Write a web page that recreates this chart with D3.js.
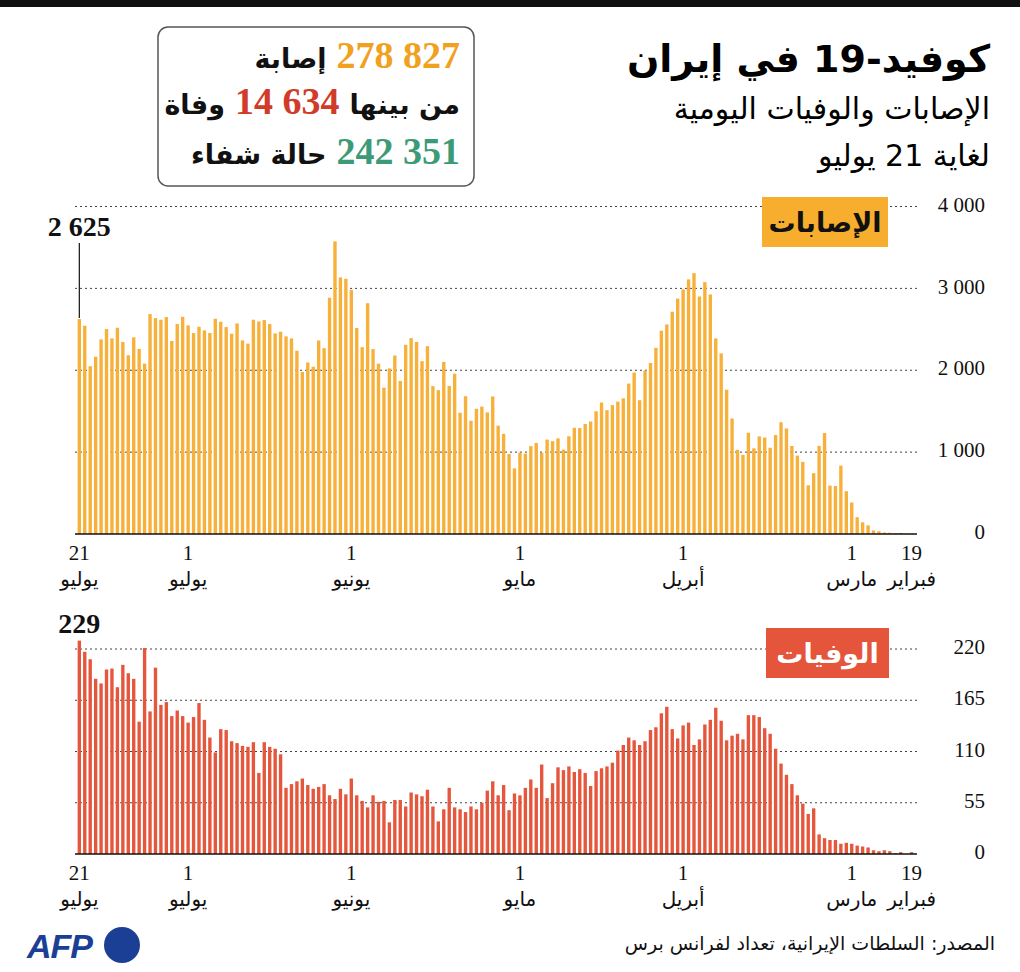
<!DOCTYPE html>
<html>
<head>
<meta charset="utf-8">
<script src="https://cdn.jsdelivr.net/npm/d3@7"></script>
<style>
  body { margin: 0; background: #fff; }
  svg text { font-family: 'Liberation Serif', 'DejaVu Sans', serif; }
  svg text.ar { font-family: 'DejaVu Sans', sans-serif; }
  svg text.logo { font-family: 'Liberation Sans', sans-serif; }
</style>
</head>
<body>
<svg id="chart" width="1020" height="972"></svg>
<script>
// daily new cases, Feb 19 -> Jul 21 2020
const casesFeb = [2, 3, 13, 10, 15, 18, 34, 44, 106, 143, 205];
const casesMar = [385, 523, 835, 586, 591, 1234, 1076, 743, 595, 881, 958, 1075, 1289, 1365, 1209, 1053, 1178, 1192, 1046, 1237, 966, 1028, 1411, 1762, 2206, 2389, 2926, 3076, 2901, 3186, 3110];
const casesApr = [2987, 2875, 2715, 2560, 2483, 2274, 2089, 1997, 1634, 1972, 1837, 1657, 1617, 1574, 1512, 1606, 1499, 1374, 1343, 1294, 1297, 1194, 1030, 1168, 1134, 1153, 991, 1112, 1073, 982];
const casesMay = [994, 802, 976, 1223, 1323, 1680, 1485, 1556, 1529, 1383, 1683, 1481, 1958, 1808, 2102, 1757, 1806, 2294, 2111, 2346, 2392, 2311, 1869, 2180, 2023, 1787, 2080, 2258, 2819, 2282, 2516];
const casesJun = [2979, 3117, 3134, 3574, 2886, 2269, 2364, 2043, 2095, 1979, 2238, 2389, 2414, 2471, 2450, 2564, 2613, 2596, 2617, 2325, 2365, 2572, 2446, 2527, 2592, 2629, 2454, 2487, 2531, 2454];
const casesJul = [2548, 2653, 2564, 2357, 2649, 2617, 2637, 2686, 2081, 2260, 2402, 2183, 2345, 2519, 2389, 2503, 2377, 2166, 2049, 2544, 2625];

// daily deaths
const deathsFeb = [2, 0, 2, 1, 3, 4, 3, 4, 7, 8, 9];
const deathsMar = [11, 12, 11, 15, 15, 17, 21, 49, 43, 54, 63, 75, 85, 97, 113, 129, 135, 147, 149, 149, 123, 129, 127, 122, 143, 157, 144, 139, 123, 117, 141];
const deathsApr = [138, 124, 134, 158, 151, 136, 133, 121, 117, 122, 125, 117, 111, 98, 94, 92, 89, 73, 87, 91, 88, 94, 90, 93, 76, 60, 96, 71, 80, 71];
const deathsMay = [63, 65, 47, 74, 63, 78, 68, 55, 48, 51, 45, 48, 50, 71, 48, 35, 51, 69, 62, 64, 66, 51, 58, 58, 34, 57, 56, 63, 50, 57, 63];
const deathsJun = [81, 64, 70, 59, 63, 75, 72, 70, 74, 81, 78, 75, 71, 107, 113, 115, 120, 87, 120, 115, 116, 119, 121, 133, 134, 109, 125, 144, 162, 147];
const deathsJul = [141, 148, 154, 148, 163, 160, 200, 153, 221, 142, 188, 194, 203, 179, 199, 198, 183, 188, 209, 217, 229];

const cases = [].concat(casesFeb, casesMar, casesApr, casesMay, casesJun, casesJul);
const deaths = [].concat(deathsFeb, deathsMar, deathsApr, deathsMay, deathsJun, deathsJul);

const fmtKey = d3.timeFormat('%Y-%m-%d');
const dates = d3.timeDay.range(new Date(2020, 1, 19), new Date(2020, 6, 22)).map(fmtKey);

const tickDates = ['2020-07-21', '2020-07-01', '2020-06-01', '2020-05-01', '2020-04-01', '2020-03-01', '2020-02-19'];
const tickDays = ['21', '1', '1', '1', '1', '1', '19'];
const tickMonths = ['يوليو', 'يوليو', 'يونيو', 'مايو', 'أبريل', 'مارس', 'فبراير'];

const casesTicks = [0, 1000, 2000, 3000, 4000];
const deathsTicks = [0, 55, 110, 165, 220];

const totalCases = '278 827';
const totalDeaths = '14 634';
const totalRecovered = '242 351';

const orange = '#f7b03a', red = '#e5573d';
const fmtSpace = (v) => d3.format(',')(v).replace(/,/g, ' ');

const svg = d3.select('#chart');

svg.append('rect').attr('x', 0).attr('y', 0).attr('width', 1020).attr('height', 7).attr('fill', '#111');

// title block
svg.append('text').attr('class', 'ar').attr('x', 990).attr('y', 72)
  .attr('text-anchor', 'end').attr('font-size', 38).attr('font-weight', 'bold')
  .text('كوفيد-19 في إيران');
svg.append('text').attr('class', 'ar').attr('x', 990).attr('y', 119)
  .attr('text-anchor', 'end').attr('font-size', 30)
  .text('الإصابات والوفيات اليومية');
svg.append('text').attr('class', 'ar').attr('x', 990).attr('y', 166)
  .attr('text-anchor', 'end').attr('font-size', 30)
  .text('لغاية 21 يوليو');

// totals box
svg.append('rect').attr('x', 158).attr('y', 27).attr('width', 316).attr('height', 159)
  .attr('rx', 10).attr('fill', 'none').attr('stroke', '#555').attr('stroke-width', 1.5);

function inlineRow(y, parts) {
  let xr = 460;
  parts.forEach((p) => {
    const t = svg.append('text').attr('x', xr).attr('y', y)
      .attr('text-anchor', 'end').attr('font-size', p.num ? 38 : 27)
      .attr('font-weight', 'bold').attr('fill', p.color || '#111')
      .attr('class', p.num ? null : 'ar')
      .text(p.text);
    xr -= t.node().getComputedTextLength() + 10;
  });
}
inlineRow(68, [{ text: totalCases, num: true, color: '#f0a11e' }, { text: 'إصابة' }]);
inlineRow(114, [{ text: 'من بينها' }, { text: totalDeaths, num: true, color: '#d13b29' }, { text: 'وفاة' }]);
inlineRow(164, [{ text: totalRecovered, num: true, color: '#3d9a77' }, { text: 'حالة شفاء' }]);

// shared x scale, time runs right -> left
const x = d3.scaleBand().domain(dates.slice().reverse())
  .range([76.6, 914.3]).paddingInner(0.38).paddingOuter(0.19);

function panel(cfg) {
  const y = d3.scaleLinear().domain(cfg.domain).range([cfg.y0, cfg.y1]);
  const g = svg.append('g');

  g.selectAll('line.grid').data(cfg.ticks.slice(1)).join('line')
    .attr('x1', 75).attr('x2', 917)
    .attr('y1', (d) => y(d)).attr('y2', (d) => y(d))
    .attr('stroke', '#444').attr('stroke-width', 1).attr('stroke-dasharray', '2,3');

  g.selectAll('rect.bar').data(cfg.values).join('rect')
    .attr('x', (d, i) => x(dates[i])).attr('width', x.bandwidth())
    .attr('y', (d) => y(d)).attr('height', (d) => y(0) - y(d))
    .attr('fill', cfg.color);

  g.append('line').attr('x1', 75).attr('x2', 917)
    .attr('y1', y(0)).attr('y2', y(0)).attr('stroke', '#111').attr('stroke-width', 1.5);

  const yAxis = g.append('g').attr('transform', 'translate(985,0)')
    .call(d3.axisRight(y).tickValues(cfg.ticks).tickSize(0).tickPadding(0).tickFormat(fmtSpace));
  yAxis.select('.domain').remove();
  yAxis.selectAll('text').attr('text-anchor', 'end').attr('font-size', 21)
    .attr('fill', '#111').attr('dy', '0.22em');

  const xAxis = g.append('g').attr('transform', `translate(0,${y(0)})`)
    .call(d3.axisBottom(x).tickValues(tickDates).tickSize(0).tickPadding(0)
      .tickFormat((d, i) => tickDays[i]));
  xAxis.select('.domain').remove();
  xAxis.selectAll('text').attr('font-size', 21)
    .attr('fill', '#111').attr('dy', null).attr('y', 26);
  xAxis.selectAll('.tick').append('text').attr('class', 'ar')
    .attr('y', 52).attr('text-anchor', 'middle').attr('font-size', 20).attr('fill', '#111')
    .text((d, i) => tickMonths[i]);

  // label chip
  g.append('rect').attr('x', cfg.chip[0]).attr('y', cfg.chip[1])
    .attr('width', cfg.chip[2]).attr('height', 50).attr('fill', cfg.chipColor);
  g.append('text').attr('class', 'ar').attr('x', cfg.chip[0] + cfg.chip[2] / 2)
    .attr('y', cfg.chip[1] + 35).attr('text-anchor', 'middle').attr('font-size', 27)
    .attr('font-weight', 'bold').attr('fill', cfg.chipText).text(cfg.label);

  // last value callout
  const last = dates.length - 1;
  const cx = x(dates[last]) + x.bandwidth() / 2;
  g.append('text').attr('x', cx).attr('y', cfg.calloutY).attr('text-anchor', 'middle')
    .attr('font-size', 28).attr('font-weight', 'bold').attr('fill', '#111')
    .text(fmtSpace(cfg.values[last]));
  if (cfg.leader) {
    g.append('line').attr('x1', cx).attr('x2', cx)
      .attr('y1', cfg.calloutY + 7).attr('y2', y(cfg.values[last]) - 1)
      .attr('stroke', '#111').attr('stroke-width', 1.2);
  }
}

panel({
  values: cases, domain: [0, 4000], y0: 534, y1: 206.5, ticks: casesTicks,
  color: orange, chip: [762, 197, 126], chipColor: '#f7ae2e', chipText: '#111',
  label: 'الإصابات', calloutY: 236, leader: true
});

panel({
  values: deaths, domain: [0, 220], y0: 854, y1: 649, ticks: deathsTicks,
  color: red, chip: [766, 628, 123], chipColor: '#e5553b', chipText: '#fff',
  label: 'الوفيات', calloutY: 633, leader: false
});

// footer
svg.append('text').attr('class', 'logo').attr('x', 27).attr('y', 958)
  .attr('font-size', 34).attr('font-weight', 'bold').attr('font-style', 'italic')
  .attr('fill', '#1b3f94').attr('letter-spacing', -1).text('AFP');
svg.append('circle').attr('cx', 122).attr('cy', 945).attr('r', 18).attr('fill', '#1b3f94');
svg.append('text').attr('class', 'ar').attr('x', 995).attr('y', 950)
  .attr('text-anchor', 'end').attr('font-size', 19).attr('fill', '#111')
  .text('المصدر: السلطات الإيرانية، تعداد لفرانس برس');
</script>
</body>
</html>
